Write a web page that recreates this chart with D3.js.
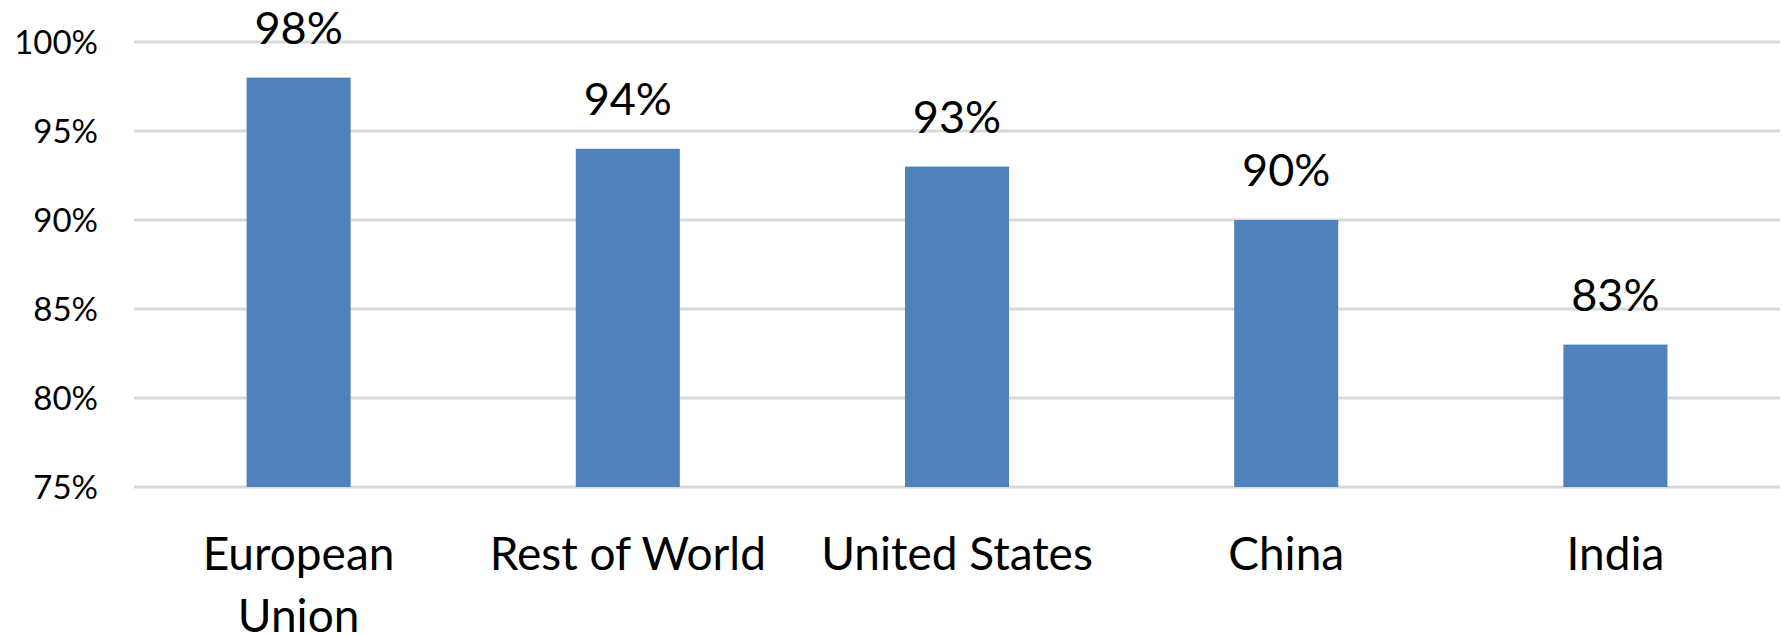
<!DOCTYPE html>
<html>
<head>
<meta charset="utf-8">
<script src="https://cdn.jsdelivr.net/npm/d3@7"></script>
<style>
  html, body { margin: 0; padding: 0; background: #fff; }
  svg { display: block; }
  text { font-family: Lato, "Open Sans", sans-serif; fill: #000; }
</style>
</head>
<body>
<svg id="chart" width="1783" height="635"></svg>
<script>
const categories = ["European\nUnion", "Rest of World", "United States", "China", "India"];
const values = [98, 94, 93, 90, 83];
const tickValues = [75, 80, 85, 90, 95, 100];

const W = 1783, H = 635;
const plot = { left: 134, right: 1780, top: 42, bottom: 487 };

const svg = d3.select("#chart");

const x = d3.scaleBand().domain(categories).range([plot.left, plot.right]).padding(0);
const y = d3.scaleLinear().domain([75, 100]).range([plot.bottom, plot.top]);

// gridlines
svg.append("g").selectAll("line").data(tickValues).join("line")
  .attr("x1", plot.left).attr("x2", plot.right)
  .attr("y1", d => y(d)).attr("y2", d => y(d))
  .attr("stroke", "#d9d9d9").attr("stroke-width", 3);

// y axis labels
const yAxis = d3.axisLeft(y).tickValues(tickValues).tickFormat(d => d + "%").tickSize(0).tickPadding(0);
const gy = svg.append("g").attr("transform", `translate(98,0)`).call(yAxis);
gy.select(".domain").remove();
gy.selectAll("text").attr("font-size", 33).attr("font-family", "Lato, sans-serif").attr("fill", "#000").attr("dy", "0.35em");

// bars
const barW = x.bandwidth() * 0.316;
svg.append("g").selectAll("rect").data(values).join("rect")
  .attr("x", (d, i) => x(categories[i]) + x.bandwidth() / 2 - barW / 2)
  .attr("width", barW)
  .attr("y", d => y(d))
  .attr("height", d => y(75) - y(d))
  .attr("fill", "#4f81bd");

// data labels
svg.append("g").selectAll("text").data(values).join("text")
  .attr("x", (d, i) => x(categories[i]) + x.bandwidth() / 2)
  .attr("y", d => y(d) - 34)
  .attr("text-anchor", "middle")
  .attr("font-size", 45)
  .text(d => d + "%");

// category labels
const gx = svg.append("g");
categories.forEach((c, i) => {
  const t = gx.append("text")
    .attr("x", x(c) + x.bandwidth() / 2)
    .attr("y", 570)
    .attr("text-anchor", "middle")
    .attr("font-size", 46);
  c.split("\n").forEach((line, j) => {
    t.append("tspan").attr("x", x(c) + x.bandwidth() / 2).attr("dy", j === 0 ? 0 : 62).text(line);
  });
});
</script>
</body>
</html>
